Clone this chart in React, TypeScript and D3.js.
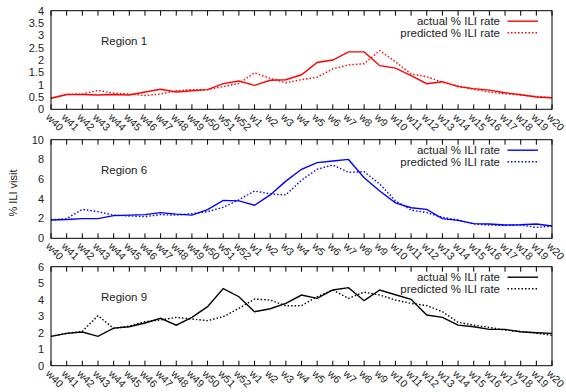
import React, { useEffect, useRef } from "react";
import * as d3 from "d3";

const weeks = [
  "w40", "w41", "w42", "w43", "w44", "w45", "w46", "w47", "w48", "w49", "w50", "w51", "w52",
  "w1", "w2", "w3", "w4", "w5", "w6", "w7", "w8", "w9", "w10", "w11", "w12", "w13", "w14",
  "w15", "w16", "w17", "w18", "w19", "w20"
];

const region1Actual = [
  0.45, 0.6, 0.6, 0.58, 0.6, 0.58, 0.7, 0.81, 0.7, 0.75, 0.8, 1.04, 1.15,
  0.97, 1.18, 1.2, 1.4, 1.9, 2.0, 2.33, 2.33, 1.77, 1.67, 1.37, 1.04, 1.12, 0.92,
  0.84, 0.78, 0.67, 0.59, 0.5, 0.47
];
const region1Predicted = [
  0.45, 0.6, 0.62, 0.77, 0.65, 0.62, 0.56, 0.62, 0.75, 0.8, 0.8, 0.92, 1.05,
  1.48, 1.25, 1.08, 1.2, 1.3, 1.64, 1.8, 1.85, 2.38, 1.93, 1.43, 1.32, 1.1, 0.95,
  0.81, 0.7, 0.63, 0.58, 0.52, 0.47
];

const region6Actual = [
  1.85, 1.9, 2.0, 2.0, 2.3, 2.35, 2.4, 2.6, 2.45, 2.35, 2.9, 3.85, 3.8,
  3.35, 4.4, 5.8, 7.0, 7.67, 7.84, 8.0, 6.15, 4.8, 3.6, 3.1, 2.94, 2.0, 1.82,
  1.49, 1.45, 1.35, 1.38, 1.45, 1.25
];
const region6Predicted = [
  1.86, 2.0, 2.94, 2.7, 2.35, 2.26, 2.2, 2.4, 2.35, 2.5, 2.7, 3.15, 3.9,
  4.8, 4.5, 4.4, 5.9, 7.0, 7.43, 6.7, 6.75, 5.5, 3.8, 2.87, 2.6, 2.13, 1.86,
  1.45, 1.35, 1.3, 1.35, 1.1, 1.25
];

const region9Actual = [
  1.78, 1.96, 2.04, 1.78, 2.28, 2.36, 2.59, 2.87, 2.46, 2.93, 3.58, 4.67, 4.18,
  3.27, 3.45, 3.78, 4.28, 4.08, 4.59, 4.73, 3.94, 4.59, 4.3, 4.02, 3.07, 2.93, 2.46,
  2.36, 2.2, 2.2, 2.06, 2.0, 1.96
];
const region9Predicted = [
  1.78, 1.96, 2.08, 3.03, 2.26, 2.4, 2.67, 2.77, 2.93, 2.83, 2.73, 2.97, 3.47,
  4.04, 3.98, 3.63, 3.64, 4.18, 4.59, 4.08, 4.46, 4.28, 3.98, 3.78, 3.64, 3.27, 2.63,
  2.46, 2.32, 2.16, 2.06, 1.98, 1.84
];

const panels = [
  { name: "Region 1", actual: region1Actual, predicted: region1Predicted, max: 4, ticks: d3.range(0, 4.01, 0.5), color: "#ff0000", top: 10.7, bottom: 109.3 },
  { name: "Region 6", actual: region6Actual, predicted: region6Predicted, max: 10, ticks: d3.range(0, 10.01, 2), color: "#0000ff", top: 139.7, bottom: 238.3 },
  { name: "Region 9", actual: region9Actual, predicted: region9Predicted, max: 6, ticks: d3.range(0, 6.01, 1), color: "#000000", top: 266.7, bottom: 365.7 }
];

const buildChart = (el: SVGSVGElement) => {
  const svg = d3.select(el);
  svg.selectAll("*").remove();

  const font = "'Liberation Sans', Arial, sans-serif";
  const x = d3.scalePoint<string>().domain(weeks).range([51, 552]);
  const left = 51;
  const right = 552;

  panels.forEach(p => {
    const y = d3.scaleLinear().domain([0, p.max]).range([p.bottom, p.top]);
    const g = svg.append("g");

    // x ticks, inward on bottom and top
    weeks.forEach(w => {
      g.append("line")
        .attr("x1", x(w)!).attr("x2", x(w)!)
        .attr("y1", p.bottom).attr("y2", p.bottom - 5)
        .attr("stroke", "#000").attr("stroke-width", 1);
      g.append("line")
        .attr("x1", x(w)!).attr("x2", x(w)!)
        .attr("y1", p.top).attr("y2", p.top + 5)
        .attr("stroke", "#000").attr("stroke-width", 1);
      g.append("text")
        .attr("transform", `translate(${x(w)! - 2}, ${p.bottom + 5}) rotate(45)`)
        .attr("font-family", font)
        .attr("font-size", 10.5)
        .attr("fill", "#222")
        .attr("dy", "0.5em")
        .text(w);
    });

    // y tick labels
    p.ticks.forEach(t => {
      g.append("text")
        .attr("x", 44)
        .attr("y", y(t))
        .attr("dy", "0.35em")
        .attr("text-anchor", "end")
        .attr("font-family", font)
        .attr("font-size", 11)
        .attr("fill", "#222")
        .text(String(t));
    });

    const line = d3
      .line<number>()
      .x((d, i) => x(weeks[i])!)
      .y(d => y(d));

    g.append("path")
      .attr("d", line(p.predicted)!)
      .attr("fill", "none")
      .attr("stroke", p.color)
      .attr("stroke-width", 1.4)
      .attr("stroke-dasharray", "1.5,2");

    g.append("path")
      .attr("d", line(p.actual)!)
      .attr("fill", "none")
      .attr("stroke", p.color)
      .attr("stroke-width", 1.4);

    // frame
    g.append("rect")
      .attr("x", left).attr("y", p.top)
      .attr("width", right - left).attr("height", p.bottom - p.top)
      .attr("fill", "none")
      .attr("stroke", "#000")
      .attr("stroke-width", 1);

    g.append("text")
      .attr("x", 101)
      .attr("y", p.top + 30)
      .attr("dy", "0.35em")
      .attr("font-family", font)
      .attr("font-size", 11.5)
      .attr("fill", "#222")
      .text(p.name);

    // legend
    const legend = [
      { label: "actual % ILI rate", dash: null },
      { label: "predicted % ILI rate", dash: "1.5,2" }
    ];
    legend.forEach((l, i) => {
      const ly = p.top + 10.5 + i * 11.5;
      g.append("text")
        .attr("x", 500)
        .attr("y", ly)
        .attr("dy", "0.35em")
        .attr("text-anchor", "end")
        .attr("font-family", font)
        .attr("font-size", 11.5)
        .attr("fill", "#222")
        .text(l.label);
      g.append("line")
        .attr("x1", 507.5).attr("x2", 538)
        .attr("y1", ly).attr("y2", ly)
        .attr("stroke", p.color)
        .attr("stroke-width", 1.4)
        .attr("stroke-dasharray", l.dash);
    });
  });

  svg.append("text")
    .attr("transform", "translate(13, 193) rotate(-90)")
    .attr("dy", "0.35em")
    .attr("text-anchor", "middle")
    .attr("font-family", font)
    .attr("font-size", 11)
    .attr("fill", "#222")
    .text("% ILI visit");
};

function App() {
  const ref = useRef<SVGSVGElement>(null);

  useEffect(() => {
    if (ref.current) buildChart(ref.current);
  }, []);

  return (
    <svg
      ref={ref}
      width={566}
      height={392}
      style={{ position: "absolute", left: 0, top: 0, background: "#fff" }}
    />
  );
}

export default App;
